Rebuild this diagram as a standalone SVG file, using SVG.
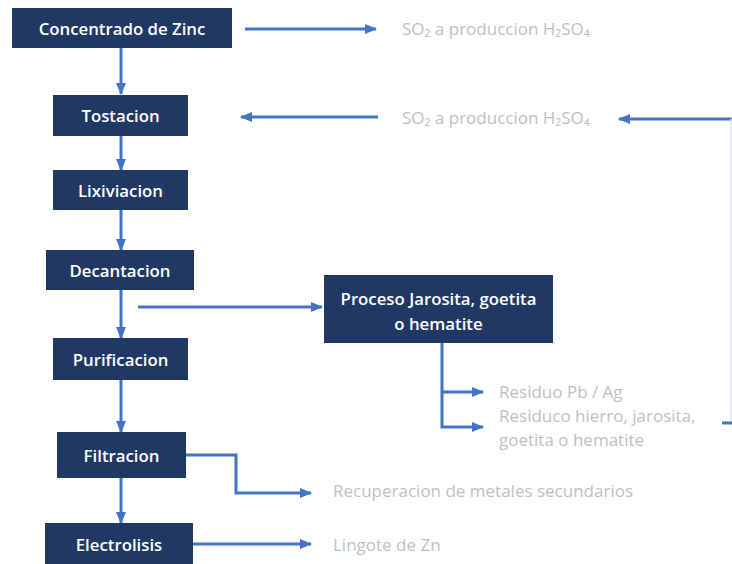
<svg xmlns="http://www.w3.org/2000/svg" width="732" height="564" viewBox="0 0 732 564">
<defs>
<style>
.box{fill:#1f3864;}
.bt{fill:#ffffff;font-family:"Open Sans","Noto Sans",sans-serif;font-size:16.8px;font-weight:600;text-anchor:middle;dominant-baseline:central;}
.gt{fill:#bfbfbf;font-family:"Open Sans","Noto Sans","DejaVu Sans",sans-serif;font-size:17px;dominant-baseline:central;}
.c{fill:none;stroke:#4472c4;stroke-width:3;}
</style>
<marker id="ah" markerUnits="userSpaceOnUse" markerWidth="12" markerHeight="12" viewBox="0 0 12 12" refX="11" refY="6" orient="auto">
<path d="M0,1 L12,6 L0,11 Z" fill="#4472c4"/>
</marker>
</defs>
<rect width="732" height="564" fill="#ffffff"/>
<g id="connectors">
<line class="c" x1="121" y1="48" x2="121" y2="94" marker-end="url(#ah)"/>
<line class="c" x1="121" y1="136" x2="121" y2="170" marker-end="url(#ah)"/>
<line class="c" x1="121" y1="210" x2="121" y2="250" marker-end="url(#ah)"/>
<line class="c" x1="121" y1="290" x2="121" y2="338" marker-end="url(#ah)"/>
<line class="c" x1="121" y1="380" x2="121" y2="432" marker-end="url(#ah)"/>
<line class="c" x1="121" y1="478" x2="121" y2="523" marker-end="url(#ah)"/>
<line class="c" x1="245" y1="29" x2="376" y2="29" marker-end="url(#ah)"/>
<line class="c" x1="378" y1="117" x2="241" y2="117" marker-end="url(#ah)"/>
<line class="c" x1="735" y1="119" x2="619" y2="119" marker-end="url(#ah)"/>
<line x1="731" y1="119" x2="731" y2="423" stroke="#dde4f2" stroke-width="1.5"/>
<line class="c" x1="722" y1="423" x2="735" y2="423"/>
<line class="c" x1="138" y1="307" x2="322" y2="307" marker-end="url(#ah)"/>
<polyline class="c" points="442,343 442,427 483,427" marker-end="url(#ah)"/>
<line class="c" x1="442" y1="392" x2="483" y2="392" marker-end="url(#ah)"/>
<polyline class="c" points="186,455 236,455 236,493 311,493" marker-end="url(#ah)"/>
<line class="c" x1="193" y1="544" x2="311" y2="544" marker-end="url(#ah)"/>
</g>
<g id="concentrado"><rect class="box" x="12" y="8" width="220" height="40"/><text class="bt" x="122" y="28">Concentrado de Zinc</text></g>
<g id="tostacion"><rect class="box" x="53" y="95" width="135" height="41"/><text class="bt" x="120.5" y="115">Tostacion</text></g>
<g id="lixiviacion"><rect class="box" x="53" y="170" width="135" height="40"/><text class="bt" x="120.5" y="190">Lixiviacion</text></g>
<g id="decantacion"><rect class="box" x="46" y="250" width="148" height="40"/><text class="bt" x="120" y="270">Decantacion</text></g>
<g id="purificacion"><rect class="box" x="53" y="338" width="135" height="42"/><text class="bt" x="120.5" y="359">Purificacion</text></g>
<g id="filtracion"><rect class="box" x="57" y="432" width="129" height="46"/><text class="bt" x="121.5" y="455">Filtracion</text></g>
<g id="electrolisis"><rect class="box" x="45" y="523" width="148" height="41"/><text class="bt" x="119" y="544">Electrolisis</text></g>
<g id="proceso"><rect class="box" x="324" y="275" width="229" height="68"/><text class="bt" x="438.5" y="298">Proceso Jarosita, goetita</text><text class="bt" x="438.5" y="323">o hematite</text></g>
<g id="so2-1"><text class="gt" x="402" y="28">SO₂ a produccion H₂SO₄</text></g>
<g id="so2-2"><text class="gt" x="402" y="117">SO₂ a produccion H₂SO₄</text></g>
<g id="residuo-pb"><text class="gt" x="499" y="391">Residuo Pb / Ag</text></g>
<g id="residuo-fe"><text class="gt" x="499" y="415">Residuco hierro, jarosita,</text><text class="gt" x="499" y="439">goetita o hematite</text></g>
<g id="recuperacion"><text class="gt" x="333" y="490">Recuperacion de metales secundarios</text></g>
<g id="lingote"><text class="gt" x="333" y="544">Lingote de Zn</text></g>
</svg>
